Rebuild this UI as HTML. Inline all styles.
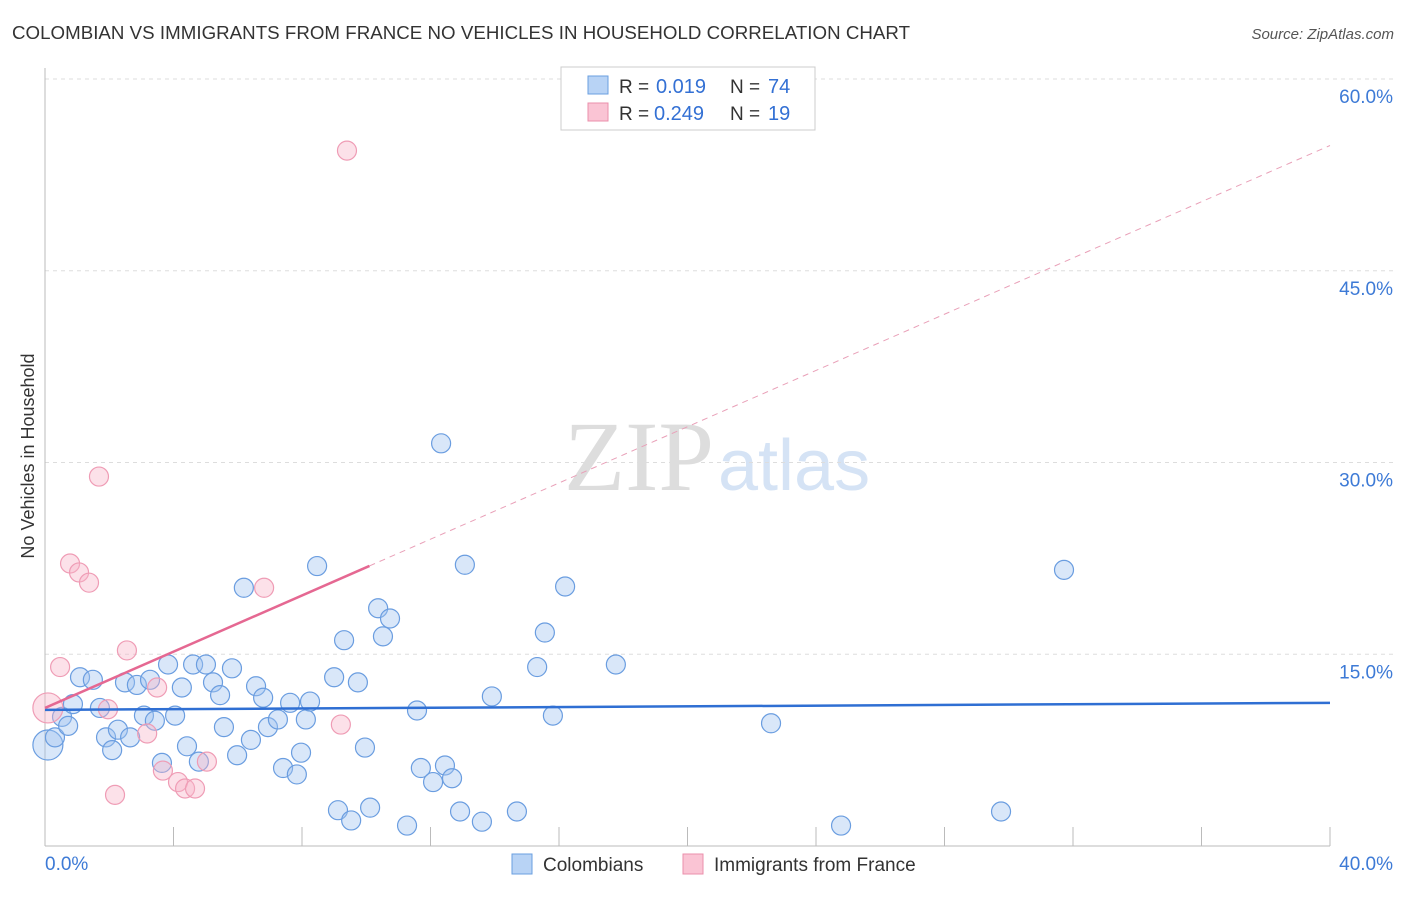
<!DOCTYPE html>
<html><head><meta charset="utf-8"><style>
body{margin:0;background:#fff;font-family:"Liberation Sans",sans-serif}
svg text{font-family:"Liberation Sans",sans-serif}
</style></head><body>
<svg id="c" width="1406" height="892">
<text x="12" y="39" font-size="18.7" fill="#333" textLength="898">COLOMBIAN VS IMMIGRANTS FROM FRANCE NO VEHICLES IN HOUSEHOLD CORRELATION CHART</text>
<text x="1394" y="39" font-size="15" fill="#555" font-style="italic" text-anchor="end">Source: ZipAtlas.com</text>
<text x="34" y="456" font-size="18" fill="#333" text-anchor="middle" transform="rotate(-90 34 456)">No Vehicles in Household</text>
<text x="714" y="490" font-size="100" fill="#ddd" text-anchor="end" style="font-family:'Liberation Serif',serif">ZIP</text>
<text x="718" y="490" font-size="72" fill="#d5e3f5">atlas</text>
<g id="grid"></g><g id="pts"></g><g id="lines"></g>
<g>
<rect x="561" y="67" width="254" height="63" fill="#fff" stroke="#ccc"/>
<rect x="588" y="76" width="20" height="18" fill="#b8d3f5" stroke="#6a9fe0"/>
<rect x="588" y="103" width="20" height="18" fill="#fac4d4" stroke="#eb8fab"/>
<text x="619" y="93" font-size="19" fill="#333">R =</text>
<text x="656" y="93" font-size="20" fill="#3370d4">0.019</text>
<text x="730" y="93" font-size="19" fill="#333">N =</text>
<text x="768" y="93" font-size="20" fill="#3370d4">74</text>
<text x="619" y="120" font-size="19" fill="#333">R =</text>
<text x="654" y="120" font-size="20" fill="#3370d4">0.249</text>
<text x="730" y="120" font-size="19" fill="#333">N =</text>
<text x="768" y="120" font-size="20" fill="#3370d4">19</text>
</g>
<g>
<rect x="512" y="854" width="20" height="20" fill="#b8d3f5" stroke="#6a9fe0"/>
<text x="543" y="871" font-size="19" fill="#333">Colombians</text>
<rect x="683" y="854" width="20" height="20" fill="#fac4d4" stroke="#eb8fab"/>
<text x="714" y="871" font-size="19" fill="#333">Immigrants from France</text>
</g>
</svg>
<script>
const blueX=[0.09,0.31,0.53,0.72,0.87,1.09,1.49,1.71,1.90,2.09,2.27,2.49,2.65,2.86,3.08,3.27,3.42,3.64,3.83,4.05,4.26,4.42,4.61,4.79,5.01,5.23,5.45,5.57,5.82,5.98,6.19,6.41,6.57,6.79,6.94,7.25,7.41,7.63,7.84,7.97,8.12,8.25,8.47,9.00,9.12,9.31,9.53,9.74,9.96,10.12,10.37,10.52,10.74,11.27,11.58,11.70,12.08,12.33,12.45,12.67,12.92,13.07,13.60,13.91,14.69,15.32,15.56,15.81,16.19,17.77,22.60,24.78,29.76,31.72];
const blueY=[7.9,8.5,10.1,9.4,11.1,13.2,13.0,10.8,8.5,7.5,9.1,12.8,8.5,12.6,10.2,13.0,9.8,6.5,14.2,10.2,12.4,7.8,14.2,6.6,14.2,12.8,11.8,9.3,13.9,7.1,20.2,8.3,12.5,11.6,9.3,9.9,6.1,11.2,5.6,7.3,9.9,11.3,21.9,13.2,2.8,16.1,2.0,12.8,7.7,3.0,18.6,16.4,17.8,1.6,10.6,6.1,5.0,31.5,6.3,5.3,2.7,22.0,1.9,11.7,2.7,14.0,16.7,10.2,20.3,14.2,9.6,1.6,2.7,21.6];
const pinkX=[0.09,0.47,0.78,1.06,1.37,1.68,1.96,2.18,2.55,3.18,3.49,3.67,4.14,4.36,4.67,5.04,6.82,9.21,9.40];
const pinkY=[10.8,14.0,22.1,21.4,20.6,28.9,10.7,4.0,15.3,8.8,12.4,5.9,5.0,4.5,4.5,6.6,20.2,9.5,54.4];
const yTicks=[15,30,45,60];
const yTickLabels=["15.0%","30.0%","45.0%","60.0%"];
const blueTrend=[10.65,11.2];
const pinkTrend=[10.8,1.1];
const NS='http://www.w3.org/2000/svg';
const sx=v=>45+v*32.125, sy=v=>846-v*12.783;
function mk(tag,attrs,parent){const e=document.createElementNS(NS,tag);for(const k in attrs)e.setAttribute(k,attrs[k]);document.getElementById(parent).appendChild(e);return e;}
yTicks.forEach((t,i)=>{
 const l=mk('line',{x1:45,x2:1393,y1:sy(t),y2:sy(t),stroke:'#ddd','stroke-dasharray':'4 4'},'grid');
 
 
 const tx=mk('text',{x:1393,y:sy(t)+24,'font-size':19,fill:'#3d7ad6','text-anchor':'end'},'grid');tx.textContent=yTickLabels[i];
 
 
});
let a=mk('line',{x1:45,x2:45,y1:68,y2:846,stroke:'#bbb'},'grid');


a=mk('line',{x1:45,x2:1330,y1:846,y2:846,stroke:'#bbb'},'grid');


for(let k=1;k<=10;k++){const t=mk('line',{x1:sx(k*4),x2:sx(k*4),y1:827,y2:846,stroke:'#bbb'},'grid');
 
 }
let t0=mk('text',{x:45,y:870,'font-size':19,fill:'#3d7ad6'},'grid');t0.textContent='0.0%';


t0=mk('text',{x:1393,y:870,'font-size':19,fill:'#3d7ad6','text-anchor':'end'},'grid');t0.textContent='40.0%';


blueX.forEach((x,i)=>{const c=mk('circle',{cx:sx(x),cy:sy(blueY[i]),r:i==0?15:9.5,fill:'rgba(160,196,240,0.4)',stroke:'#6a9de0','stroke-width':1.2},'pts');
 
 });
pinkX.forEach((x,i)=>{const c=mk('circle',{cx:sx(x),cy:sy(pinkY[i]),r:i==0?15:9.5,fill:'rgba(248,180,200,0.4)',stroke:'#ef9cb5','stroke-width':1.2},'pts');
 
 });
let ln=mk('line',{x1:sx(0),y1:sy(blueTrend[0]),x2:sx(40),y2:sy(blueTrend[1]),stroke:'#2f6fd3','stroke-width':2.5},'lines');


ln=mk('line',{x1:sx(0),y1:sy(pinkTrend[0]),x2:sx(10.1),y2:sy(pinkTrend[0]+pinkTrend[1]*10.1),stroke:'#e56892','stroke-width':2.5},'lines');


ln=mk('line',{x1:sx(10.1),y1:sy(pinkTrend[0]+pinkTrend[1]*10.1),x2:sx(40),y2:sy(pinkTrend[0]+pinkTrend[1]*40),stroke:'#e9a0b8','stroke-width':1,'stroke-dasharray':'6 5'},'lines');


</script>
</body></html>
